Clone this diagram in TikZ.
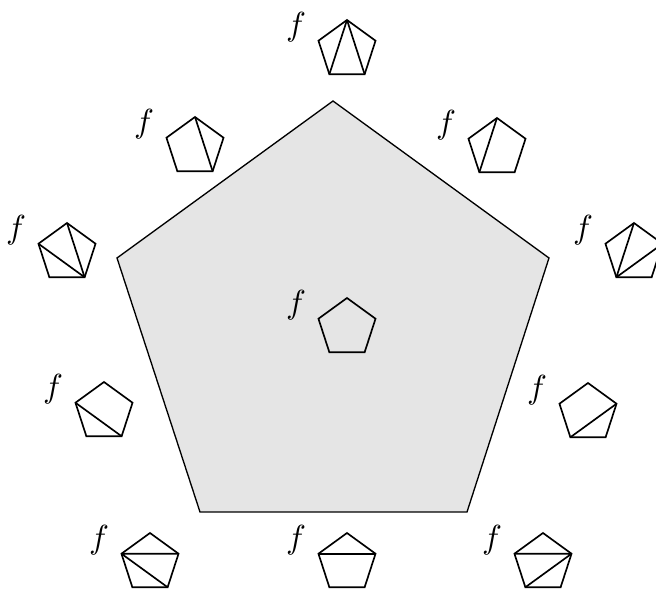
\documentclass[tikz,border=0pt]{standalone}
\usetikzlibrary{calc}
\tikzset{
  smallpent/.style={line width=0.5pt, line join=miter},
  diag/.style={line width=0.5pt},
  bigpent/.style={draw, fill=gray!20, line width=0.4pt},
  flabel/.style={inner sep=0pt}
}
\newcommand\pentitem[3]{%
  \coordinate (#1) at (#2,-#3);
  \foreach \k/\a in {1/90,2/18,3/-54,4/-126,5/162}{\coordinate (#1-\k) at ($(#1)+(\a:30)$);}
  \draw[smallpent] (#1-1)--(#1-2)--(#1-3)--(#1-4)--(#1-5)--cycle;
  \node[flabel] (#1-f) at ($(#1)+(-51,23)$) {$f$};
}
\begin{document}
\begin{tikzpicture}[x=0.3pt,y=0.3pt]
\useasboundingbox (0,0) rectangle (656,-590);
% big pentagon
\coordinate (B1) at (333,-101);
\coordinate (B2) at (549,-258);
\coordinate (B3) at (467,-512);
\coordinate (B4) at (200,-512);
\coordinate (B5) at (117,-258);
\draw[bigpent] (B1)--(B2)--(B3)--(B4)--(B5)--cycle;
% small pentagons
\pentitem{pt}{347}{50}
\pentitem{pul}{195}{147}
\pentitem{pur}{497}{148}
\pentitem{pl}{67}{253}
\pentitem{pr}{634}{253}
\pentitem{pll}{104}{412}
\pentitem{plr}{588}{413}
\pentitem{pbl}{150}{563}
\pentitem{pb}{347}{563}
\pentitem{pbr}{543}{563}
\pentitem{pc}{347}{328}
% diagonals
\draw[diag] (pt-1)--(pt-3) (pt-1)--(pt-4);
\draw[diag] (pul-1)--(pul-3);
\draw[diag] (pur-1)--(pur-4);
\draw[diag] (pl-1)--(pl-3) (pl-5)--(pl-3);
\draw[diag] (pr-1)--(pr-4) (pr-4)--(pr-2);
\draw[diag] (pll-5)--(pll-3);
\draw[diag] (plr-4)--(plr-2);
\draw[diag] (pbl-5)--(pbl-2) (pbl-5)--(pbl-3);
\draw[diag] (pb-5)--(pb-2);
\draw[diag] (pbr-5)--(pbr-2) (pbr-2)--(pbr-4);
\end{tikzpicture}
\end{document}
